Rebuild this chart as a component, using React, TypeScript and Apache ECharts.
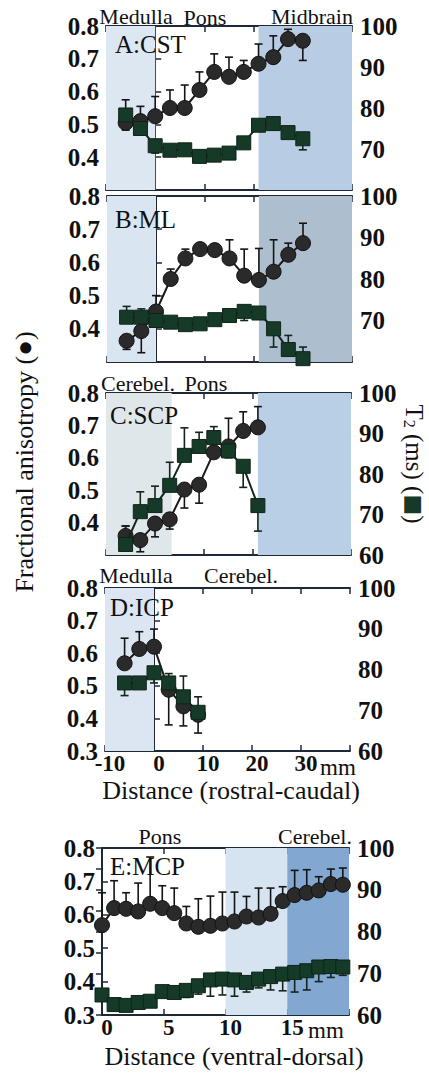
import React, { useEffect, useRef } from "react";
import * as echarts from "echarts";

// ---------- DATA ----------
const xRostral = [-6, -3, 0, 3, 6, 9, 12, 15, 18, 21, 24, 27, 30];
const xSCP = [-6, -3, 0, 3, 6, 9, 12, 15, 18, 21];
const xICP = [-6, -3, 0, 3, 6, 9];
const xMCP = [0, 0.98, 1.95, 2.93, 3.9, 4.88, 5.85, 6.83, 7.8, 8.78, 9.75, 10.73, 11.7, 12.68, 13.65, 14.63, 15.6, 16.58, 17.55, 18.53, 19.5];

// A: CST
const faA = [0.505, 0.51, 0.525, 0.55, 0.55, 0.605, 0.66, 0.645, 0.66, 0.685, 0.705, 0.76, 0.755];
const faErrA = [0.575, 0.555, 0.585, 0.605, 0.62, 0.66, 0.715, 0.705, 0.695, 0.745, 0.77, 0.79, 0.695];
const t2A = [78.3, 75, 70.8, 69.7, 69.8, 68.2, 68.5, 69, 71.5, 75.8, 76.2, 74, 72.5];
const t2ErrA = [74.6, 74, 69, 68.8, 68.8, 67.5, 67.5, 68.2, 70.8, 74.8, 75.2, 72.8, 69.8];

// B: ML
const faB = [0.364, 0.393, 0.452, 0.55, 0.612, 0.64, 0.637, 0.612, 0.56, 0.547, 0.572, 0.623, 0.658];
const faErrB = [0.338, 0.328, 0.5, 0.58, 0.64, 0.655, 0.648, 0.668, 0.64, 0.642, 0.668, 0.658, 0.718];
const t2B = [70.8, 70.8, 70, 69.6, 69, 69.2, 70.2, 71.2, 72.2, 71.8, 68, 63, 60.8];
const t2ErrB = [73.4, 72.8, 70.8, 69, 68.2, 68.4, 69.5, 70.5, 70, 70.5, 63.6, 66.4, 63.6];

// C: SCP
const faC = [0.359, 0.346, 0.397, 0.41, 0.502, 0.517, 0.617, 0.635, 0.683, 0.694];
const faErrC = [0.39, 0.31, 0.356, 0.38, 0.445, 0.46, 0.66, 0.722, 0.742, 0.758];
const t2C = [62.6, 70.7, 72.2, 77.2, 84.6, 86.8, 89, 85.7, 81.9, 72.2];
const t2ErrC = [67.1, 75.6, 77, 82.9, 91.4, 90.3, 91.7, 84, 76.7, 65.9];

// D: ICP
const faD = [0.569, 0.613, 0.62, 0.488, 0.437, 0.411];
const faErrD = [0.646, 0.666, 0.674, 0.38, 0.377, 0.355];
const t2D = [76.7, 76.7, 79.2, 76.7, 73.3, 69.5];
const t2ErrD = [73.6, 76.9, 76.7, 79, 78.4, 73.3];

// E: MCP
const faE = [0.569, 0.62, 0.618, 0.61, 0.633, 0.62, 0.605, 0.574, 0.564, 0.567, 0.574, 0.58, 0.595, 0.592, 0.603, 0.641, 0.659, 0.666, 0.673, 0.692, 0.69];
const faErrE = [0.666, 0.702, 0.666, 0.695, 0.773, 0.687, 0.68, 0.625, 0.648, 0.656, 0.668, 0.668, 0.655, 0.68, 0.68, 0.684, 0.733, 0.735, 0.714, 0.737, 0.74];
const t2E = [64.8, 62.5, 62.3, 63, 63.3, 65.6, 65.4, 65.9, 67, 68.4, 68.6, 68.4, 67.8, 68.6, 69.2, 69.8, 70.2, 70.6, 71.5, 71.6, 71.5];
const t2ErrE = [64, 61.5, 61, 62, 62.2, 64.5, 64, 64.2, 65, 64.5, 64.8, 64.5, 65.5, 66.5, 66, 65.8, 65.5, 66, 68, 69, 69.5];

// shaded anatomical regions [from, to] in mm
const regionsA = [[-10, 0], [21, 40]];
const regionsB = [[-10, 0], [21, 40]];
const regionsC = [[-10, 3.4], [21, 40]];
const regionsD = [[-10, 0]];
const regionsE = [[10, 15], [15, 20]];

const panelNames = ["A:CST", "B:ML", "C:SCP", "D:ICP", "E:MCP"];
const regionLabelsA = ["Medulla", "Pons", "Midbrain"];
const regionLabelsC = ["Cerebel.", "Pons"];
const regionLabelsD = ["Medulla", "Cerebel."];
const regionLabelsE = ["Pons", "Cerebel."];

const faAxis = { min: 0.3, max: 0.8, interval: 0.1 };
const t2Axis = { min: 60, max: 100, interval: 5 };
const rostralAxis = { min: -10, max: 40, interval: 10 };
const ventralAxis = { min: 0, max: 20, interval: 5 };

const xTitleRostral = "Distance (rostral-caudal)";
const xTitleVentral = "Distance (ventral-dorsal)";
const yTitleLeft = "Fractional anisotropy (●)";
const unitMM = "mm";

// ---------- STYLE / LAYOUT ----------
const SERIF = "Liberation Serif";
const AXIS = "#1e2838";
const INK = "#111111";
const CIRCLE = "#2a2a2a";
const SQUARE = "#163a28";

const regionColorsA = ["#dce7f2", "#b8cde3"];
const regionColorsB = ["#d9e5f1", "#adbfcf"];
const regionColorsC = ["#dfe7eb", "#b9cfe6"];
const regionColorsD = ["#dbe6f2"];
const regionColorsE = ["#d6e3f0", "#82a8d2"];

const grids = [
  { left: 106, top: 26, width: 246, height: 164 },
  { left: 107, top: 196, width: 245, height: 166 },
  { left: 106, top: 393, width: 245, height: 162 },
  { left: 105, top: 588, width: 245, height: 163 },
  { left: 102, top: 848, width: 247, height: 167 },
];

const panels = [
  { x: xRostral, fa: faA, faErr: faErrA, t2: t2A, t2Err: t2ErrA, regions: regionsA, colors: regionColorsA, xa: rostralAxis, showX: false, show03: false, show60: false },
  { x: xRostral, fa: faB, faErr: faErrB, t2: t2B, t2Err: t2ErrB, regions: regionsB, colors: regionColorsB, xa: rostralAxis, showX: false, show03: false, show60: false },
  { x: xSCP, fa: faC, faErr: faErrC, t2: t2C, t2Err: t2ErrC, regions: regionsC, colors: regionColorsC, xa: rostralAxis, showX: false, show03: false, show60: true },
  { x: xICP, fa: faD, faErr: faErrD, t2: t2D, t2Err: t2ErrD, regions: regionsD, colors: regionColorsD, xa: rostralAxis, showX: true, show03: true, show60: true },
  { x: xMCP, fa: faE, faErr: faErrE, t2: t2E, t2Err: t2ErrE, regions: regionsE, colors: regionColorsE, xa: ventralAxis, showX: true, show03: true, show60: true },
];

function txt(text: string, x: number, y: number, size: number, o: any = {}) {
  const align = o.align || "center";
  return {
    type: "text",
    x,
    y,
    rotation: o.rotation || 0,
    z: 100,
    silent: true,
    style: {
      text,
      fill: o.fill || INK,
      font: `${o.bold ? "bold " : ""}${size}px ${SERIF}`,
      align,
      textAlign: align,
      verticalAlign: "middle",
      textVerticalAlign: "middle",
      lineHeight: o.lineHeight,
    },
  };
}

const errRender = (color: string) => (params: any, api: any) => {
  const x = api.value(0);
  const p0 = api.coord([x, api.value(1)]);
  const p1 = api.coord([x, api.value(2)]);
  const cap = 4;
  const st = { stroke: color, lineWidth: 1.6 };
  return {
    type: "group",
    children: [
      { type: "line", shape: { x1: p0[0], y1: p0[1], x2: p1[0], y2: p1[1] }, style: st },
      { type: "line", shape: { x1: p1[0] - cap, y1: p1[1], x2: p1[0] + cap, y2: p1[1] }, style: st },
    ],
  };
};

const regionRender = (colors: string[]) => (params: any, api: any) => {
  const cs = params.coordSys;
  let x0 = api.coord([api.value(0), 0.5])[0];
  let x1 = api.coord([api.value(1), 0.5])[0];
  x0 = Math.max(cs.x, x0);
  x1 = Math.min(cs.x + cs.width, x1);
  return {
    type: "rect",
    shape: { x: x0, y: cs.y, width: x1 - x0, height: cs.height },
    style: { fill: colors[params.dataIndex] },
  };
};

function buildOption() {
  const grid: any[] = [];
  const xAxis: any[] = [];
  const yAxis: any[] = [];
  const series: any[] = [];
  const lineStyle = { color: AXIS, width: 2 };
  const tick = { show: true, inside: true, length: 6, lineStyle: { color: AXIS, width: 1.5 } };

  panels.forEach((p, i) => {
    grid.push({ ...grids[i], containLabel: false });
    const xa = p.xa;
    xAxis.push({
      gridIndex: i, type: "value", position: "bottom", min: xa.min, max: xa.max, interval: xa.interval,
      axisLine: { show: true, lineStyle }, axisTick: tick, splitLine: { show: false },
      axisLabel: {
        show: p.showX, fontFamily: SERIF, fontWeight: "bold", fontSize: 23, color: INK, margin: 3,
        padding: [0, 0, 0, 10], lineHeight: 18,
        formatter: (v: number) => (v >= xa.max ? "" : String(v)),
      },
    });
    xAxis.push({
      gridIndex: i, type: "value", position: "top", min: xa.min, max: xa.max, interval: xa.interval,
      axisLine: { show: true, lineStyle }, axisTick: tick, splitLine: { show: false }, axisLabel: { show: false },
    });
    yAxis.push({
      gridIndex: i, type: "value", position: "left", ...faAxis,
      axisLine: { show: true, lineStyle }, axisTick: tick, splitLine: { show: false },
      axisLabel: {
        fontFamily: SERIF, fontWeight: "bold", fontSize: 25, color: INK, margin: 7, padding: [6, 0, 0, 0],
        formatter: (v: number) => (v < 0.35 && !p.show03 ? "" : v.toFixed(1)),
      },
    });
    yAxis.push({
      gridIndex: i, type: "value", position: "right", ...t2Axis,
      axisLine: { show: true, lineStyle }, axisTick: tick, splitLine: { show: false },
      axisLabel: {
        fontFamily: SERIF, fontWeight: "bold", fontSize: 25, color: INK, margin: 8, padding: [5, 0, 0, 0],
        formatter: (v: number) => (Math.round(v) % 10 !== 0 || (v < 65 && !p.show60) ? "" : String(v)),
      },
    });
    const xi = 2 * i;
    const yl = 2 * i;
    const yr = 2 * i + 1;
    series.push({
      type: "custom", xAxisIndex: xi, yAxisIndex: yl, z: 1, silent: true,
      renderItem: regionRender(p.colors), data: p.regions,
    });
    series.push({
      type: "custom", xAxisIndex: xi, yAxisIndex: yl, z: 2, silent: true,
      renderItem: errRender("#141414"), data: p.x.map((x, j) => [x, p.fa[j], p.faErr[j]]),
    });
    series.push({
      type: "custom", xAxisIndex: xi, yAxisIndex: yr, z: 2, silent: true,
      renderItem: errRender("#14261c"), data: p.x.map((x, j) => [x, p.t2[j], p.t2Err[j]]),
    });
    series.push({
      type: "line", xAxisIndex: xi, yAxisIndex: yl, z: 3, silent: true,
      symbol: "circle", symbolSize: 15, clip: false,
      itemStyle: { color: CIRCLE, borderColor: "#111", borderWidth: 1 },
      lineStyle: { color: "#1a1a1a", width: 2 },
      data: p.x.map((x, j) => [x, p.fa[j]]),
    });
    series.push({
      type: "line", xAxisIndex: xi, yAxisIndex: yr, z: 4, silent: true,
      symbol: "rect", symbolSize: 14, clip: false,
      itemStyle: { color: SQUARE, borderColor: "#0e2418", borderWidth: 1 },
      lineStyle: { color: "#14261c", width: 2 },
      data: p.x.map((x, j) => [x, p.t2[j]]),
    });
  });

  const graphic: any[] = [
    // region names above panels
    txt(regionLabelsA[0], 136, 16, 22),
    txt(regionLabelsA[1], 205, 17, 22),
    txt(regionLabelsA[2], 312, 16, 22),
    txt(regionLabelsC[0], 138, 383, 22),
    txt(regionLabelsC[1], 206, 383, 22),
    txt(regionLabelsD[0], 136, 575, 22),
    txt(regionLabelsD[1], 241, 575, 22),
    txt(regionLabelsE[0], 160, 836, 22),
    txt(regionLabelsE[1], 315, 836, 22),
    // panel names
    txt(panelNames[0], 115, 44, 25, { align: "left" }),
    txt(panelNames[1], 115, 219, 25, { align: "left" }),
    txt(panelNames[2], 110, 415, 25, { align: "left" }),
    txt(panelNames[3], 110, 607, 25, { align: "left" }),
    txt(panelNames[4], 110, 866, 25, { align: "left" }),
    // units
    txt(unitMM, 320, 767, 23, { align: "left", lineHeight: 14 }),
    txt(unitMM, 308, 1030, 23, { align: "left", lineHeight: 14 }),
    // axis titles
    txt(xTitleRostral, 231, 790, 26, { lineHeight: 22 }),
    txt(xTitleVentral, 234, 1056, 26, { lineHeight: 22 }),
    txt(yTitleLeft, 24, 462, 26, { rotation: Math.PI / 2 }),
    {
      type: "text", x: 414, y: 464, rotation: -Math.PI / 2, z: 100, silent: true,
      style: {
        text: "{t|T}{s|2}{t| (ms) (}{q|■}{t|)}",
        align: "center", textAlign: "center", verticalAlign: "middle", textVerticalAlign: "middle",
        rich: {
          t: { fontFamily: SERIF, fontSize: 25, lineHeight: 24, fill: INK },
          s: { fontFamily: SERIF, fontSize: 16, lineHeight: 16, fill: INK, padding: [10, 0, 0, 0] },
          q: { fontFamily: "DejaVu Sans", fontSize: 22, lineHeight: 24, fill: SQUARE },
        },
      },
    },
  ];

  return { animation: false, backgroundColor: "#ffffff", grid, xAxis, yAxis, series, graphic };
}

export default function App() {
  const ref = useRef<HTMLDivElement>(null);
  useEffect(() => {
    if (!ref.current) return;
    const chart = echarts.init(ref.current, undefined, { renderer: "svg" });
    chart.setOption(buildOption() as any);
    return () => chart.dispose();
  }, []);
  return (
    <div
      ref={ref}
      style={{ position: "absolute", left: 0, top: 0, width: 429, height: 1078, background: "#fff" }}
    />
  );
}
